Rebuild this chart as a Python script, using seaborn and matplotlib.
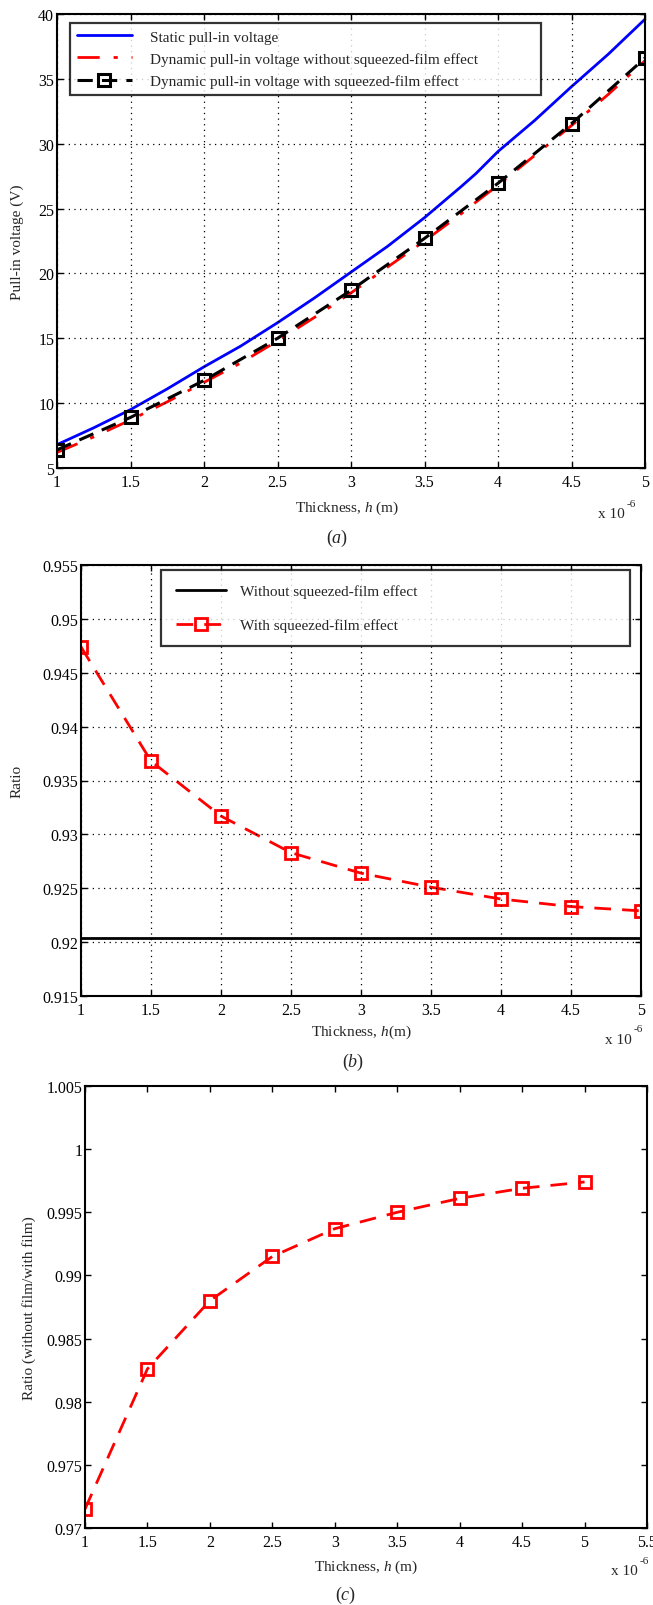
import numpy as np
import pandas as pd
import matplotlib
matplotlib.use("Agg")
import matplotlib.pyplot as plt
import seaborn as sns

sns.set_style("ticks")
plt.rcParams['font.family'] = ['Liberation Serif', 'DejaVu Serif']
plt.rcParams['mathtext.fontset'] = 'custom'
plt.rcParams['mathtext.it'] = 'Liberation Serif:italic'
plt.rcParams['mathtext.rm'] = 'Liberation Serif'

# ---- data (thickness in units of 1e-6 m) ----
h_fine = [1.0, 1.25, 1.5, 1.75, 2.0, 2.25, 2.5, 2.75, 3.0, 3.25, 3.5, 3.75, 3.85, 4.0, 4.25, 4.5, 4.75, 5.0]
static_v = [6.8, 8.1, 9.5, 11.1, 12.8, 14.4, 16.2, 18.1, 20.1, 22.1, 24.3, 26.7, 27.7, 29.4, 31.8, 34.4, 36.9, 39.6]
dyn_nofilm_v = [6.2, 7.4, 8.7, 10.1, 11.6, 13.1, 14.8, 16.6, 18.5, 20.5, 22.5, 24.6, 25.5, 26.8, 29.1, 31.4, 33.8, 36.4]

h = [1.0, 1.5, 2.0, 2.5, 3.0, 3.5, 4.0, 4.5, 5.0]
dyn_film_v = [6.4, 8.9, 11.75, 15.0, 18.7, 22.7, 26.95, 31.55, 36.6]

ratio_nofilm = [0.9204] * 9
ratio_film = [0.9474, 0.9368, 0.9317, 0.9283, 0.9264, 0.9251, 0.9240, 0.9233, 0.9229]

ratio_c = [0.9715, 0.9826, 0.9880, 0.9915, 0.9937, 0.9950, 0.9961, 0.9969, 0.9974]

xticks_ab = [1, 1.5, 2, 2.5, 3, 3.5, 4, 4.5, 5]
xticklabels_ab = ['1', '1.5', '2', '2.5', '3', '3.5', '4', '4.5', '5']
xticks_c = [1, 1.5, 2, 2.5, 3, 3.5, 4, 4.5, 5, 5.5]
xticklabels_c = ['1', '1.5', '2', '2.5', '3', '3.5', '4', '4.5', '5', '5.5']
yticks_a = [5, 10, 15, 20, 25, 30, 35, 40]
yticks_b = [0.915, 0.92, 0.925, 0.93, 0.935, 0.94, 0.945, 0.95, 0.955]
yticklabels_b = ['0.915', '0.92', '0.925', '0.93', '0.935', '0.94', '0.945', '0.95', '0.955']
yticks_c = [0.97, 0.975, 0.98, 0.985, 0.99, 0.995, 1.0, 1.005]
yticklabels_c = ['0.97', '0.975', '0.98', '0.985', '0.99', '0.995', '1', '1.005']

W, H = 653, 1606
fig = plt.figure(figsize=(W / 100, H / 100), dpi=100)

def ax_px(left, top, right, bottom):
    return fig.add_axes([left / W, 1 - bottom / H, (right - left) / W, (bottom - top) / H])

def ftext(x, y, s, **kw):
    return fig.text(x / W, 1 - y / H, s, **kw)

FS = 11
TS = 11.5

def style(ax, grid=True):
    ax.tick_params(direction='in', top=True, right=True, length=4, width=1, labelsize=TS, colors='black')
    ax.tick_params(axis='x', pad=4)
    ax.tick_params(axis='y', pad=2)
    for s in ax.spines.values():
        s.set_linewidth(1.5)
        s.set_color('black')
    if grid:
        ax.grid(True, linestyle=(0, (1, 3.5)), color='black', linewidth=0.9)
    ax.set_axisbelow(False)

def multiplier(x, y):
    ftext(x, y, 'x 10', fontsize=FS, ha='left', va='center')
    ftext(x + 29, y - 10, '-6', fontsize=8, ha='left', va='center')

# ---- panel a ----
A = (57, 15, 645, 469)
ax1 = ax_px(*A)
sns.lineplot(x=h_fine, y=static_v, ax=ax1, color='#0000ff', lw=2.0, label='Static pull-in voltage')
sns.lineplot(x=h_fine, y=dyn_nofilm_v, ax=ax1, color='#ff0000', lw=2.0, linestyle=(0, (8, 5, 1.5, 5)),
             label='Dynamic pull-in voltage without squeezed-film effect')
sns.lineplot(x=h, y=dyn_film_v, ax=ax1, color='black', lw=2.2, linestyle=(0, (5, 3)), marker='s',
             markersize=9, markerfacecolor='none', markeredgecolor='black', markeredgewidth=2.2,
             label='Dynamic pull-in voltage with squeezed-film effect')
ax1.set_xlim(1, 5)
ax1.set_ylim(5, 40)
ax1.set_xticks(xticks_ab)
ax1.set_xticklabels(xticklabels_ab)
ax1.set_yticks(yticks_a)
style(ax1)
aw, ah = A[2] - A[0], A[3] - A[1]
ax1.set_xlabel('Thickness, $h$ (m)', fontsize=FS, va='center')
ax1.xaxis.set_label_coords((347 - A[0]) / aw, (A[3] - 508) / ah)
ax1.set_ylabel('Pull-in voltage (V)', fontsize=FS, va='center')
ax1.yaxis.set_label_coords((17 - A[0]) / aw, 0.5)
leg = ax1.legend(loc='upper left',
                 bbox_to_anchor=((70 - A[0]) / aw, (A[3] - 104) / ah, (541 - 70) / aw, (104 - 24) / ah),
                 mode='expand', borderaxespad=0, fontsize=FS,
                 frameon=True, fancybox=False, edgecolor='black', handlelength=3.6,
                 borderpad=0.45, labelspacing=0.55, handletextpad=1.2)
leg.get_frame().set_linewidth(1.6)
multiplier(598, 515)
ftext(337, 538, '($a$)', fontsize=FS + 2, ha='center', va='center')

# ---- panel b ----
B = (81, 566, 641, 997)
ax2 = ax_px(*B)
sns.lineplot(x=h, y=ratio_nofilm, ax=ax2, color='black', lw=2.0, label='Without squeezed-film effect')
sns.lineplot(x=h, y=ratio_film, ax=ax2, color='#ff0000', lw=2.0, linestyle=(0, (6, 4)), marker='s',
             markersize=9, markerfacecolor='none', markeredgecolor='#ff0000', markeredgewidth=2.0,
             label='With squeezed-film effect')
ax2.set_xlim(1, 5)
ax2.set_ylim(0.915, 0.955)
ax2.set_xticks(xticks_ab)
ax2.set_xticklabels(xticklabels_ab)
ax2.set_yticks(yticks_b)
ax2.set_yticklabels(yticklabels_b)
style(ax2)
bw, bh = B[2] - B[0], B[3] - B[1]
ax2.set_xlabel('Thickness, $h$(m)', fontsize=FS, va='center')
ax2.xaxis.set_label_coords((361 - B[0]) / bw, (B[3] - 1032) / bh)
ax2.set_ylabel('Ratio', fontsize=FS, va='center')
ax2.yaxis.set_label_coords((17 - B[0]) / bw, 0.5)
leg2 = ax2.legend(loc='upper left',
                  bbox_to_anchor=((161 - B[0]) / bw, (B[3] - 652) / bh, (630 - 161) / bw, (652 - 571) / bh),
                  mode='expand', borderaxespad=0, fontsize=FS,
                  frameon=True, fancybox=False, edgecolor='black', handlelength=3.3,
                  borderpad=0.95, labelspacing=1.3, handletextpad=0.9)
leg2.get_frame().set_linewidth(1.6)
multiplier(605, 1040)
ftext(353, 1062, '($b$)', fontsize=FS + 2, ha='center', va='center')

# ---- panel c ----
C = (85, 1087, 647, 1529)
ax3 = ax_px(*C)
sns.lineplot(x=h, y=ratio_c, ax=ax3, color='#ff0000', lw=2.0, linestyle=(0, (6, 4)), marker='s',
             markersize=9, markerfacecolor='none', markeredgecolor='#ff0000', markeredgewidth=2.0)
ax3.set_xlim(1, 5.5)
ax3.set_ylim(0.97, 1.005)
ax3.set_xticks(xticks_c)
ax3.set_xticklabels(xticklabels_c)
ax3.set_yticks(yticks_c)
ax3.set_yticklabels(yticklabels_c)
style(ax3, grid=False)
cw, ch = C[2] - C[0], C[3] - C[1]
ax3.set_xlabel('Thickness, $h$ (m)', fontsize=FS, va='center')
ax3.xaxis.set_label_coords((366 - C[0]) / cw, (C[3] - 1567) / ch)
ax3.set_ylabel('Ratio (without film/with film)', fontsize=FS, va='center')
ax3.yaxis.set_label_coords((29 - C[0]) / cw, 0.5)
multiplier(611, 1572)
ftext(346, 1595, '($c$)', fontsize=FS + 2, ha='center', va='center')

fig.savefig('out.png', dpi=100, facecolor='white')
